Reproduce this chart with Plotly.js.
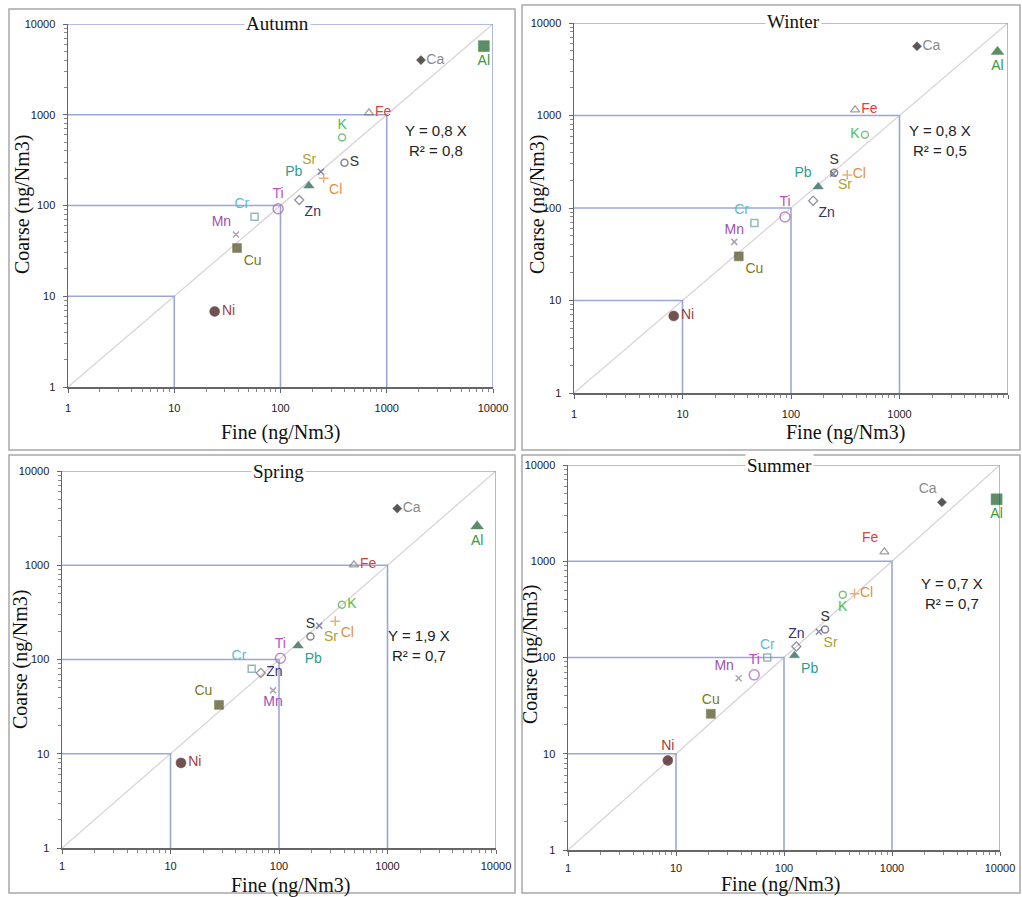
<!DOCTYPE html>
<html>
<head>
<meta charset="utf-8">
<script src="https://cdn.plot.ly/plotly-3.0.1.min.js"></script>
<style>html,body{margin:0;padding:0;background:#fff}#chart{width:1022px;height:897px}</style>
</head>
<body>
<div id="chart"></div>
<script>
// ---------- data ----------
const elements = ['Ca','Al','Fe','K','S','Sr','Cl','Pb','Zn','Ti','Cr','Mn','Cu','Ni'];

const autumnFine   = [2100, 8200, 680, 380, 400, 240, 255, 185, 150, 95, 57, 38, 39, 24];
const autumnCoarse = [4000, 5700, 1050, 560, 295, 235, 200, 165, 115, 92, 75, 48, 34, 6.8];

const winterFine   = [1450, 8000, 390, 480, 250, 245, 330, 178, 160, 88, 46, 30, 33, 8.3];
const winterCoarse = [5600, 4900, 1150, 620, 240, 235, 228, 170, 120, 80, 69, 43, 30, 6.8];

const springFine   = [1230, 6700, 490, 380, 195, 235, 330, 150, 68, 103, 56, 88, 28, 12.5];
const springCoarse = [4000, 2600, 1010, 380, 175, 228, 255, 140, 72, 103, 80, 47, 33, 8];

const summerFine   = [2900, 9300, 850, 350, 240, 210, 450, 125, 130, 53, 70, 38, 21, 8.4];
const summerCoarse = [4100, 4400, 1250, 450, 195, 185, 460, 105, 130, 66, 100, 61, 26, 8.5];

const seasons = ['Autumn', 'Winter', 'Spring', 'Summer'];
const slopes = ['0,8', '0,8', '1,9', '0,7'];
const r2s = ['0,8', '0,5', '0,7', '0,7'];

const guideLevels = [10, 100, 1000];
const axisMin = 1, axisMax = 10000;
const decades = [1, 10, 100, 1000, 10000];
const decadeLabels = ['1', '10', '100', '1000', '10000'];

// ---------- styles ----------
const textColors = ['#8a8a8a','#3a9a3a','#e0403a','#50c050','#333333','#b0a030','#e09040','#2aa090','#33336a','#c050c0','#60b8d0','#a050b0','#7a7a20','#a04040'];
const markerColors = ['#111111','#1a5e28','#777777','#4aa84a','#555555','#55558a','#e09040','#1a5a4a','#66667a','#a060b0','#6a9a9a','#8a7a8a','#4a4a1a','#3a0808'];
const symSquareAl = ['diamond','square','triangle-up-open','circle-open','circle-open','x-thin-open','cross-thin-open','triangle-up','diamond-open','circle-open','square-open','x-thin-open','square','circle'];
const symTriAl = symSquareAl.map((s,i)=> i===1 ? 'triangle-up' : s);
const symbols = [symSquareAl, symTriAl, symTriAl, symSquareAl];
const sizes = [7, 11, 8, 7, 7, 6, 7, 9, 7, 10, 7, 6, 9, 10];
const lineWidths = [0.5, 0.5, 1.3, 1.5, 1.5, 1.5, 1.5, 0.5, 1.3, 1.5, 1.5, 1.5, 0.5, 0.5];

const positions = [
  ['middle right','bottom center','middle right','top center','middle right','top left','bottom right','top left','bottom right','top center','top left','top left','bottom right','middle right'],
  ['middle right','bottom center','middle right','middle left','top center','bottom right','middle right','top left','bottom right','top center','top left','top center','bottom right','middle right'],
  ['middle right','bottom center','middle right','middle right','top center','bottom right','bottom right','bottom right','middle right','top center','top left','bottom center','top left','middle right'],
  ['top left','bottom center','top left','bottom center','top center','bottom right','middle right','bottom right','top center','top center','top center','top left','top center','top center']
];

const fineSets = [autumnFine, winterFine, springFine, summerFine];
const coarseSets = [autumnCoarse, winterCoarse, springCoarse, summerCoarse];

// plot areas in pixels [x0, x1, y0(top), y1(bottom)]
const W = 1022, H = 897;
const areas = [[68, 493, 24, 387], [574, 1008, 23, 393], [62, 496, 471, 848], [568, 1000, 465, 850]];
const frames = [[9, 9, 515, 450], [522, 5, 1020, 450], [9, 455, 515, 893], [522, 455, 1020, 893]];
const titlePos = [[277, 23], [793, 22], [278, 472], [779, 466]];
const eqPos = [[436, 140], [940, 140], [419, 645], [952, 593]];
const finePos = [[280, 432], [845, 432], [290, 885], [780, 884]];
const coarsePos = [[22, 205], [537, 205], [20, 660], [530, 655]];
const tickStandoff = [6, 6, 3, 3];

const minorVals = [];
for (let d = 0; d < decades.length - 1; d++) for (let k = 2; k < 10; k++) minorVals.push(decades[d] * k);

const traces = [];
const layout = {
  width: W, height: H, margin: {l:0, r:0, t:0, b:0},
  paper_bgcolor: '#fff', plot_bgcolor: 'rgba(0,0,0,0)', showlegend: false,
  annotations: [], shapes: []
};

const px = x => x / W, py = y => 1 - y / H;

for (let p = 0; p < 4; p++) {
  const sfx = p === 0 ? '' : String(p + 1);
  const xa = 'x' + sfx, ya = 'y' + sfx;
  const [ax0, ax1, ay0, ay1] = areas[p];
  const tickfont = {family: 'Liberation Sans, Arial, sans-serif', size: 11, color: '#222'};
  layout['xaxis' + sfx] = {
    type: 'log', range: [Math.log10(axisMin), Math.log10(axisMax)], domain: [px(ax0), px(ax1)], anchor: ya,
    showgrid: false, zeroline: false, showline: true, linecolor: '#666', linewidth: 1.5,
    ticks: 'outside', ticklen: 4, tickcolor: '#666', tickvals: decades, ticktext: decadeLabels,
    tickfont: tickfont, ticklabelstandoff: tickStandoff[p],
    minor: {tickvals: minorVals, ticks: 'outside', ticklen: 3, tickcolor: '#888', showgrid: false}
  };
  layout['yaxis' + sfx] = {
    type: 'log', range: [Math.log10(axisMin), Math.log10(axisMax)], domain: [py(ay1), py(ay0)], anchor: xa,
    showgrid: false, zeroline: false, showline: true, linecolor: '#666', linewidth: 1.5,
    ticks: 'outside', ticklen: 4, tickcolor: '#666', tickvals: decades, ticktext: decadeLabels,
    tickfont: tickfont, ticklabelstandoff: 5,
    minor: {tickvals: minorVals, ticks: 'outside', ticklen: 3, tickcolor: '#888', showgrid: false}
  };

  // 1:1 diagonal
  traces.push({x: [axisMin, axisMax], y: [axisMin, axisMax], xaxis: xa, yaxis: ya, mode: 'lines',
    line: {color: '#d8d0d4', width: 1.2}, hoverinfo: 'skip', cliponaxis: false});
  // reference boxes
  guideLevels.forEach(L => {
    traces.push({x: [axisMin, L, L], y: [L, L, axisMin], xaxis: xa, yaxis: ya, mode: 'lines',
      line: {color: '#9aa8d8', width: 1.6}, hoverinfo: 'skip', cliponaxis: false});
  });
  traces.push({x: [axisMin, axisMax, axisMax], y: [axisMax, axisMax, axisMin], xaxis: xa, yaxis: ya, mode: 'lines',
    line: {color: '#9aa8d8', width: 1.6}, hoverinfo: 'skip', cliponaxis: false});

  // element points
  traces.push({
    x: fineSets[p], y: coarseSets[p], xaxis: xa, yaxis: ya,
    mode: 'markers+text', text: elements, textposition: positions[p],
    textfont: {family: 'Liberation Sans, Arial, sans-serif', size: 14, color: textColors},
    marker: {symbol: symbols[p], size: sizes, color: markerColors,
      line: {color: markerColors, width: lineWidths}},
    cliponaxis: false, hoverinfo: 'text+x+y'
  });

  // frame
  const [fx0, fy0, fx1, fy1] = frames[p];
  layout.shapes.push({type: 'rect', xref: 'paper', yref: 'paper', x0: px(fx0), x1: px(fx1), y0: py(fy1), y1: py(fy0),
    line: {color: '#a8a8a8', width: 1.5}, fillcolor: 'rgba(0,0,0,0)', layer: 'below'});

  // season title
  layout.annotations.push({xref: 'paper', yref: 'paper', x: px(titlePos[p][0]), y: py(titlePos[p][1]),
    text: seasons[p], showarrow: false, bgcolor: '#fff', borderpad: 1, xanchor: 'center', yanchor: 'middle',
    font: {family: 'Liberation Serif, Times New Roman, serif', size: 19, color: '#111'}});
  // equation
  layout.annotations.push({xref: 'paper', yref: 'paper', x: px(eqPos[p][0]), y: py(eqPos[p][1]),
    text: 'Y = ' + slopes[p] + ' X<br>R² = ' + r2s[p], showarrow: false, align: 'center',
    xanchor: 'center', yanchor: 'middle',
    font: {family: 'Liberation Sans Narrow, Liberation Sans, Arial, sans-serif', size: 15, color: '#222'}});
  // axis titles
  layout.annotations.push({xref: 'paper', yref: 'paper', x: px(finePos[p][0]), y: py(finePos[p][1]),
    text: 'Fine (ng/Nm3)', showarrow: false, xanchor: 'center', yanchor: 'middle',
    font: {family: 'Liberation Serif, Times New Roman, serif', size: 20, color: '#111'}});
  layout.annotations.push({xref: 'paper', yref: 'paper', x: px(coarsePos[p][0]), y: py(coarsePos[p][1]),
    text: 'Coarse (ng/Nm3)', showarrow: false, textangle: -90, xanchor: 'center', yanchor: 'middle',
    font: {family: 'Liberation Serif, Times New Roman, serif', size: 20, color: '#111'}});
}

Plotly.newPlot('chart', traces, layout, {staticPlot: true, displayModeBar: false});
</script>
</body>
</html>
